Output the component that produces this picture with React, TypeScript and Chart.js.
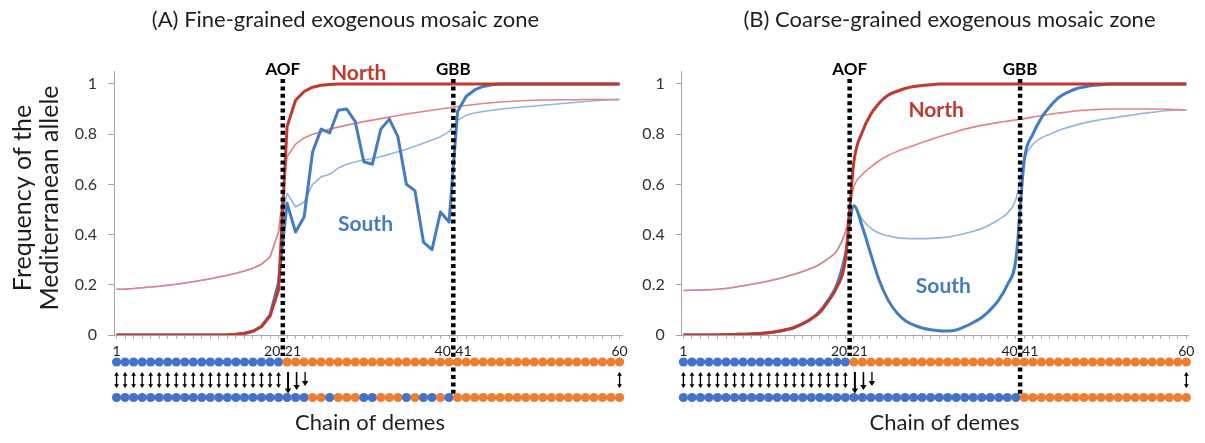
import React, { useEffect, useRef } from 'react';
import { Chart, registerables } from 'chart.js';

Chart.register(...registerables);

// ---------- DATA ----------
const demes = [
  1, 2, 3, 4, 5, 6, 7, 8, 9, 10, 11, 12, 13, 14, 15, 16, 17, 18, 19, 20,
  21, 22, 23, 24, 25, 26, 27, 28, 29, 30, 31, 32, 33, 34, 35, 36, 37, 38, 39, 40,
  41, 42, 43, 44, 45, 46, 47, 48, 49, 50, 51, 52, 53, 54, 55, 56, 57, 58, 59, 60,
];
const yTicks = [0, 0.2, 0.4, 0.6, 0.8, 1];
const xTickLabels = [1, 20, 21, 40, 41, 60];
const boundaries = [20.5, 40.5];
const boundaryLabels = ['AOF', 'GBB'];

// Panel A: fine-grained
const aNorthThick = [
  0, 0, 0, 0, 0, 0, 0, 0, 0, 0, 0, 0, 0, 0.001, 0.003, 0.007, 0.015, 0.033, 0.075, 0.18,
  0.83, 0.935, 0.97, 0.987, 0.995, 0.998, 1, 1, 1, 1, 1, 1, 1, 1, 1, 1, 1, 1, 1, 1,
  1, 1, 1, 1, 1, 1, 1, 1, 1, 1, 1, 1, 1, 1, 1, 1, 1, 1, 1, 1,
];
const aSouthThick = [
  0, 0, 0, 0, 0, 0, 0, 0, 0, 0, 0, 0, 0, 0, 0.002, 0.006, 0.015, 0.035, 0.08, 0.21,
  0.525, 0.41, 0.47, 0.73, 0.82, 0.805, 0.895, 0.9, 0.85, 0.69, 0.68, 0.82, 0.86, 0.79, 0.6, 0.575, 0.37, 0.34, 0.49, 0.45,
  0.89, 0.95, 0.976, 0.99, 0.997, 1, 1, 1, 1, 1, 1, 1, 1, 1, 1, 1, 1, 1, 1, 1,
];
const aNorthThin = [
  0.182, 0.183, 0.185, 0.188, 0.191, 0.194, 0.198, 0.202, 0.207, 0.212, 0.218, 0.224, 0.231, 0.238, 0.246, 0.255, 0.266, 0.282, 0.31, 0.41,
  0.71, 0.76, 0.785, 0.8, 0.81, 0.82, 0.828, 0.836, 0.843, 0.85, 0.856, 0.862, 0.868, 0.874, 0.88, 0.885, 0.89, 0.895, 0.9, 0.905,
  0.91, 0.914, 0.918, 0.922, 0.925, 0.928, 0.93, 0.932, 0.934, 0.935, 0.936, 0.936, 0.937, 0.937, 0.937, 0.938, 0.938, 0.938, 0.938, 0.938,
];
const aSouthThin = [
  0.182, 0.183, 0.185, 0.188, 0.191, 0.194, 0.198, 0.202, 0.207, 0.212, 0.218, 0.224, 0.231, 0.238, 0.246, 0.255, 0.266, 0.282, 0.31, 0.41,
  0.565, 0.51, 0.53, 0.6, 0.63, 0.64, 0.665, 0.68, 0.69, 0.697, 0.703, 0.71, 0.72, 0.73, 0.74, 0.752, 0.764, 0.777, 0.79, 0.81,
  0.855, 0.875, 0.884, 0.89, 0.895, 0.899, 0.903, 0.906, 0.909, 0.912, 0.915, 0.918, 0.921, 0.924, 0.927, 0.93, 0.933, 0.935, 0.937, 0.938,
];
const aRowTop = 'BBBBBBBBBBBBBBBBBBBB' + 'OOOOOOOOOOOOOOOOOOOO' + 'OOOOOOOOOOOOOOOOOOOO';
const aRowBottom = 'BBBBBBBBBBBBBBBBBBBBBBB' + 'OOBOOOBBOOOBOBBOB' + 'OOOOOOOOOOOOOOOOOOOO';

// Panel B: coarse-grained
const bNorthThick = [
  0, 0, 0, 0, 0, 0.001, 0.002, 0.003, 0.004, 0.006, 0.009, 0.014, 0.021, 0.03, 0.045, 0.065, 0.09, 0.135, 0.19, 0.3,
  0.69, 0.81, 0.88, 0.925, 0.955, 0.97, 0.982, 0.99, 0.994, 0.997, 1, 1, 1, 1, 1, 1, 1, 1, 1, 1,
  1, 1, 1, 1, 1, 1, 1, 1, 1, 1, 1, 1, 1, 1, 1, 1, 1, 1, 1, 1,
];
const bSouthThick = [
  0, 0, 0, 0, 0, 0.001, 0.002, 0.003, 0.004, 0.006, 0.009, 0.014, 0.021, 0.03, 0.045, 0.065, 0.095, 0.14, 0.2, 0.32,
  0.515, 0.43, 0.32, 0.215, 0.14, 0.09, 0.058, 0.04, 0.028, 0.021, 0.017, 0.016, 0.02, 0.033, 0.05, 0.07, 0.1, 0.14, 0.2, 0.3,
  0.7, 0.8, 0.865, 0.91, 0.945, 0.965, 0.98, 0.988, 0.994, 0.997, 1, 1, 1, 1, 1, 1, 1, 1, 1, 1,
];
const bNorthThin = [
  0.177, 0.178, 0.179, 0.18, 0.182, 0.185, 0.19, 0.196, 0.202, 0.208, 0.215, 0.223, 0.232, 0.242, 0.253, 0.266, 0.282, 0.305, 0.335, 0.41,
  0.59, 0.64, 0.67, 0.695, 0.715, 0.73, 0.743, 0.755, 0.767, 0.778, 0.79, 0.8, 0.81, 0.82, 0.828, 0.835, 0.841, 0.847, 0.852, 0.857,
  0.862, 0.868, 0.874, 0.879, 0.884, 0.888, 0.892, 0.895, 0.897, 0.899, 0.9, 0.9, 0.9, 0.9, 0.9, 0.9, 0.9, 0.899, 0.898, 0.897,
];
const bSouthThin = [
  0.177, 0.178, 0.179, 0.18, 0.182, 0.185, 0.19, 0.196, 0.202, 0.208, 0.215, 0.223, 0.232, 0.242, 0.253, 0.266, 0.282, 0.305, 0.335, 0.41,
  0.51, 0.46, 0.425, 0.405, 0.395, 0.388, 0.385, 0.384, 0.384, 0.385, 0.387, 0.39, 0.396, 0.404, 0.413, 0.424, 0.44, 0.46, 0.485, 0.54,
  0.7, 0.76, 0.785, 0.8, 0.815, 0.826, 0.836, 0.845, 0.852, 0.858, 0.863, 0.868, 0.873, 0.878, 0.883, 0.887, 0.891, 0.894, 0.896, 0.897,
];
const bRowTop = 'BBBBBBBBBBBBBBBBBBBB' + 'OOOOOOOOOOOOOOOOOOOO' + 'OOOOOOOOOOOOOOOOOOOO';
const bRowBottom = 'BBBBBBBBBBBBBBBBBBBB' + 'BBBBBBBBBBBBBBBBBBBB' + 'OOOOOOOOOOOOOOOOOOOO';

// migration arrows between the two rows of demes
const doubleArrowDemes = [1, 2, 3, 4, 5, 6, 7, 8, 9, 10, 11, 12, 13, 14, 15, 16, 17, 18, 19, 20, 60];
const downArrowDemes = [21, 22, 23];

// ---------- STYLE ----------
const FONT = "Lato, 'Open Sans', sans-serif";
const RED = '#C0392F';
const RED_THIN = '#E08484';
const BLUE = '#447CC4';
const BLUE_THIN = '#93B5E0';
const DOT_BLUE = '#4472C4';
const DOT_ORANGE = '#ED7D31';
const AXIS_GREY = '#A6A6A6';
const TEXT = '#1E1E1E';
const ROW_TOP_Y = 362;
const ROW_BOTTOM_Y = 397.5;
const ARROW_TOP = 372;
const ARROW_BOTTOM = 388;
const DOWN_ARROW_LEN = [21.5, 18, 14];
const DOWN_ARROW_W = [2, 1.6, 1.3];
const BOUNDARY_TOP = 79;
const BOUNDARY_BOTTOM = [356, 395];
const PLOT_TOP = 71.4;
const X_MAX = 60.3;

type Panel = {
  left: number;
  width: number;
  xMin: number;
  yAxisWidth: number;
  padRight: number;
  title: string;
  titleX: number;
  xTitleX: number;
  showYTitle: boolean;
  north: number[];
  south: number[];
  northThin: number[];
  southThin: number[];
  rowTop: string;
  rowBottom: string;
  smooth: boolean;
  northAt: [number, number];
  southAt: [number, number];
};

const panels: Panel[] = [
  {
    left: 0, width: 635, xMin: 0.7, yAxisWidth: 114, padRight: 12.9,
    title: '(A) Fine-grained exogenous mosaic zone', titleX: 345.5, xTitleX: 370, showYTitle: true,
    north: aNorthThick, south: aSouthThick, northThin: aNorthThin, southThin: aSouthThin,
    rowTop: aRowTop, rowBottom: aRowBottom, smooth: false,
    northAt: [29.4, 1.042], southAt: [30.2, 0.44],
  },
  {
    left: 635, width: 570, xMin: 0.8, yAxisWidth: 46.7, padRight: 16.1,
    title: '(B) Coarse-grained exogenous mosaic zone', titleX: 314.5, xTitleX: 309.5, showYTitle: false,
    north: bNorthThick, south: bSouthThick, northThin: bNorthThin, southThin: bSouthThin,
    rowTop: bRowTop, rowBottom: bRowBottom, smooth: true,
    northAt: [30.65, 0.896], southAt: [31.5, 0.195],
  },
];

function arrowHead(ctx: CanvasRenderingContext2D, x: number, y: number, dir: number, hw: number, hl: number) {
  ctx.beginPath();
  ctx.moveTo(x, y);
  ctx.lineTo(x - hw, y - dir * hl);
  ctx.lineTo(x + hw, y - dir * hl);
  ctx.closePath();
  ctx.fill();
}

function makeOverlay(p: Panel) {
  return {
    id: 'overlay',
    afterDraw(chart: any) {
      const ctx = chart.ctx as CanvasRenderingContext2D;
      const xs = chart.scales.x;
      const ys = chart.scales.y;
      ctx.save();

      // dotted boundaries
      boundaries.forEach((b, i) => {
        const x = xs.getPixelForValue(b);
        ctx.setLineDash([4, 3.4]);
        ctx.lineWidth = 4.5;
        ctx.strokeStyle = '#000';
        ctx.beginPath();
        ctx.moveTo(x, BOUNDARY_TOP);
        ctx.lineTo(x, BOUNDARY_BOTTOM[i]);
        ctx.stroke();
      });
      ctx.setLineDash([]);

      // x tick labels
      ctx.font = `14px ${FONT}`;
      ctx.fillStyle = TEXT;
      ctx.textBaseline = 'middle';
      xTickLabels.forEach((v) => {
        const b = boundaries.find((bb) => Math.abs(bb - v) === 0.5);
        let x = xs.getPixelForValue(v);
        let align: CanvasTextAlign = 'center';
        if (b !== undefined) {
          const bx = xs.getPixelForValue(b);
          if (v < b) { x = bx - 2.5; align = 'right'; } else { x = bx + 2; align = 'left'; }
        }
        ctx.textAlign = align;
        ctx.fillText(String(v), x, 351);
      });

      // rows of demes
      const rows: [string, number][] = [[p.rowTop, ROW_TOP_Y], [p.rowBottom, ROW_BOTTOM_Y]];
      rows.forEach(([row, y]) => {
        for (let i = 0; i < row.length; i++) {
          ctx.fillStyle = row[i] === 'B' ? DOT_BLUE : DOT_ORANGE;
          ctx.beginPath();
          ctx.arc(xs.getPixelForValue(demes[i]), y, 4.6, 0, Math.PI * 2);
          ctx.fill();
        }
      });

      // arrows
      ctx.fillStyle = '#000';
      ctx.strokeStyle = '#000';
      doubleArrowDemes.forEach((d) => {
        const x = xs.getPixelForValue(d);
        ctx.lineWidth = 1.3;
        ctx.beginPath();
        ctx.moveTo(x, ARROW_TOP + 3);
        ctx.lineTo(x, ARROW_BOTTOM - 3);
        ctx.stroke();
        arrowHead(ctx, x, ARROW_TOP, -1, 2.4, 3.8);
        arrowHead(ctx, x, ARROW_BOTTOM, 1, 2.4, 3.8);
      });
      downArrowDemes.forEach((d, i) => {
        const x = xs.getPixelForValue(d) + 1;
        const yEnd = ARROW_TOP + DOWN_ARROW_LEN[i];
        ctx.lineWidth = DOWN_ARROW_W[i];
        ctx.beginPath();
        ctx.moveTo(x, ARROW_TOP);
        ctx.lineTo(x, yEnd - 4);
        ctx.stroke();
        arrowHead(ctx, x, yEnd, 1, 3.2, 5);
      });

      // boundary labels
      ctx.font = `bold 17px ${FONT}`;
      ctx.fillStyle = '#000';
      ctx.textAlign = 'center';
      boundaries.forEach((b, i) => {
        ctx.fillText(boundaryLabels[i], xs.getPixelForValue(b), 70);
      });

      // series labels
      ctx.font = `bold 21px ${FONT}`;
      ctx.fillStyle = RED;
      ctx.fillText('North', xs.getPixelForValue(p.northAt[0]), ys.getPixelForValue(p.northAt[1]));
      ctx.fillStyle = BLUE;
      ctx.fillText('South', xs.getPixelForValue(p.southAt[0]), ys.getPixelForValue(p.southAt[1]));

      // titles
      ctx.fillStyle = TEXT;
      ctx.font = `22px ${FONT}`;
      ctx.fillText(p.title, p.titleX, 20);
      ctx.fillText('Chain of demes', p.xTitleX, 423);

      if (p.showYTitle) {
        ctx.save();
        ctx.translate(0, 198);
        ctx.rotate(-Math.PI / 2);
        ctx.font = `25px ${FONT}`;
        ctx.fillText('Frequency of the', 0, 23);
        ctx.fillText('Mediterranean allele', 0, 50);
        ctx.restore();
      }
      ctx.restore();
    },
  };
}

function PanelChart({ p }: { p: Panel }) {
  const ref = useRef<HTMLCanvasElement>(null);
  useEffect(() => {
    const pts = (arr: number[]) => demes.map((d, i) => ({ x: d, y: arr[i] }));
    const line = (arr: number[], color: string, width: number) => ({
      data: pts(arr),
      borderColor: color,
      backgroundColor: color,
      borderWidth: width,
      pointRadius: 0,
      fill: false,
      tension: 0,
      cubicInterpolationMode: p.smooth ? 'monotone' : 'default',
      borderJoinStyle: 'round',
    });
    const chart = new Chart(ref.current as HTMLCanvasElement, {
      type: 'line',
      data: {
        datasets: [
          line(p.north, RED, 3),
          line(p.south, BLUE, 3),
          line(p.northThin, RED_THIN, 1.6),
          line(p.southThin, BLUE_THIN, 1.6),
        ] as any,
      },
      options: {
        responsive: false,
        animation: false,
        devicePixelRatio: 1,
        layout: { padding: { left: 0, right: p.padRight, top: PLOT_TOP, bottom: 0 } },
        plugins: { legend: { display: false }, tooltip: { enabled: false }, title: { display: false } },
        scales: {
          x: {
            type: 'linear',
            min: p.xMin,
            max: X_MAX,
            afterBuildTicks: (ax: any) => { ax.ticks = demes.map((v) => ({ value: v })); },
            afterFit: (ax: any) => { ax.height = 443 - 335; },
            ticks: { display: false },
            grid: { drawOnChartArea: false, drawTicks: true, tickLength: 4, color: '#B4B4B4' },
            border: { display: true, color: AXIS_GREY, width: 1 },
          },
          y: {
            min: 0,
            max: 1.05,
            afterBuildTicks: (ax: any) => { ax.ticks = yTicks.map((v) => ({ value: v })); },
            afterFit: (ax: any) => { ax.width = p.yAxisWidth; },
            ticks: {
              font: { family: FONT, size: 16 },
              color: '#333333',
              padding: 11,
              autoSkip: false,
              callback: (v: any) => String(v),
            },
            grid: { drawOnChartArea: false, drawTicks: true, tickLength: 6, color: AXIS_GREY },
            border: { display: true, color: AXIS_GREY, width: 1 },
          },
        },
      } as any,
      plugins: [makeOverlay(p)],
    });
    return () => chart.destroy();
  }, [p]);
  return (
    <canvas
      ref={ref}
      width={p.width}
      height={443}
      style={{ position: 'absolute', left: p.left, top: 0, width: p.width, height: 443 }}
    />
  );
}

export default function App() {
  return (
    <div style={{ position: 'absolute', left: 0, top: 0, width: 1205, height: 443, background: '#fff' }}>
      {panels.map((p, i) => (
        <PanelChart key={i} p={p} />
      ))}
    </div>
  );
}
